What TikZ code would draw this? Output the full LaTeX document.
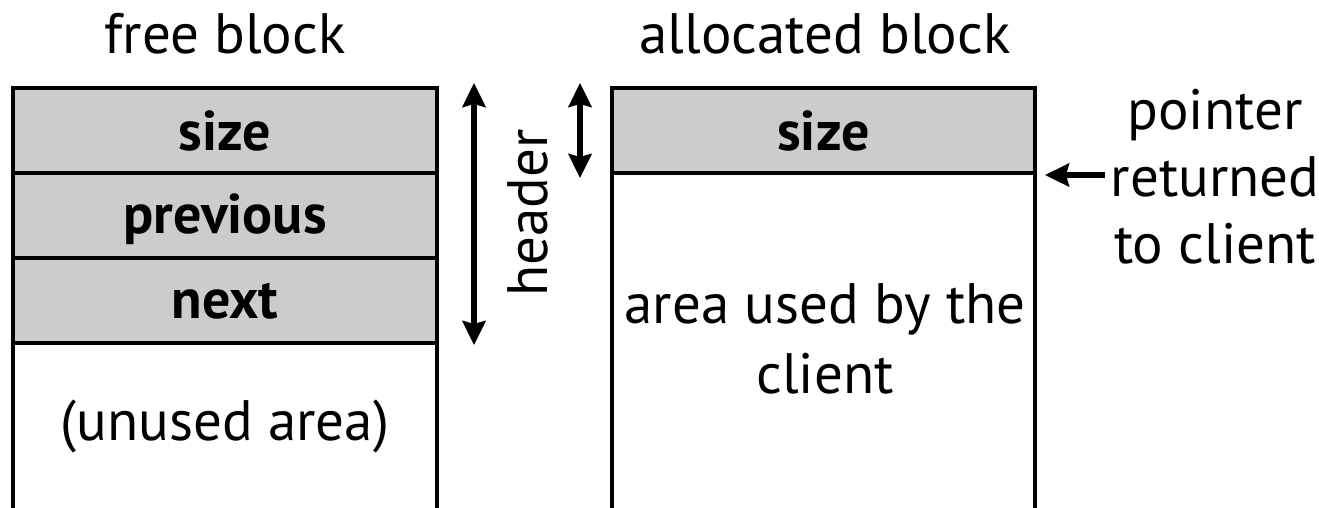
\documentclass[tikz,border=0pt]{standalone}
\usepackage{fontspec}
\setmainfont{PT Sans}
\usetikzlibrary{arrows.meta}
\definecolor{cellgray}{HTML}{CCCCCC}
\tikzset{
  cell/.style={draw=black, line width=3.5pt, fill=cellgray, minimum height=85pt, inner sep=0pt, outer sep=0pt},
  lbl/.style={font=\fontsize{57}{67}\selectfont, inner sep=0pt, anchor=base},
  blbl/.style={font=\fontsize{56}{60}\selectfont\bfseries, inner sep=0pt, anchor=base},
  wall/.style={line width=3.5pt},
  bigtip/.tip={Stealth[length=24pt,width=23pt,inset=3pt]},
  dimarrow/.style={line width=5.5pt, bigtip-bigtip},
  ptrarrow/.style={line width=5.5pt, -bigtip}
}
\begin{document}
\begin{tikzpicture}[x=1pt,y=-1pt]
\useasboundingbox (0,0) rectangle (1319,507);
\coordinate (bot) at (0,512);
% titles
\node[lbl] (tfree) at (225,53) {free block};
\node[lbl] (talloc) at (825,53) {allocated block};
% free block
\node[cell, minimum width=424pt] (fsize) at (225,130.5) {};
\node[cell, minimum width=424pt] (fprev) at (225,215.5) {};
\node[cell, minimum width=424pt] (fnext) at (225,300.5) {};
\node[blbl] (fsizet) at (225,150) {size};
\node[blbl] (fprevt) at (225,233) {previous};
\node[blbl] (fnextt) at (225,318) {next};
\draw[wall] (fnext.south west) -- (fnext.south west |- bot);
\draw[wall] (fnext.south east) -- (fnext.south east |- bot);
\node[lbl] (unused) at (225,440) {(unused area)};
% allocated block
\node[cell, minimum width=423pt] (asize) at (823.5,130.5) {};
\node[blbl] (asizet) at (823.5,150) {size};
\draw[wall] (asize.south west) -- (asize.south west |- bot);
\draw[wall] (asize.south east) -- (asize.south east |- bot);
\node[lbl, font=\fontsize{57}{70}\selectfont, align=center] (area) at (825,393) {area used by the\\client};
% header arrows
\coordinate (h1) at (474,83);
\coordinate (h2) at (474,345);
\draw[dimarrow] (h1) -- (h2);
\node[lbl, rotate=90] (header) at (547,213) {header};
\coordinate (s1) at (580,83);
\coordinate (s2) at (580,178);
\draw[dimarrow] (s1) -- (s2);
% pointer
\node[lbl, align=center] (ptr) at (1215,263) {pointer\\returned\\to client};
\coordinate (pt) at (1045,175);
\coordinate (pt0) at (1105,175);
\draw[ptrarrow] (pt0) -- (pt);
\end{tikzpicture}
\end{document}
